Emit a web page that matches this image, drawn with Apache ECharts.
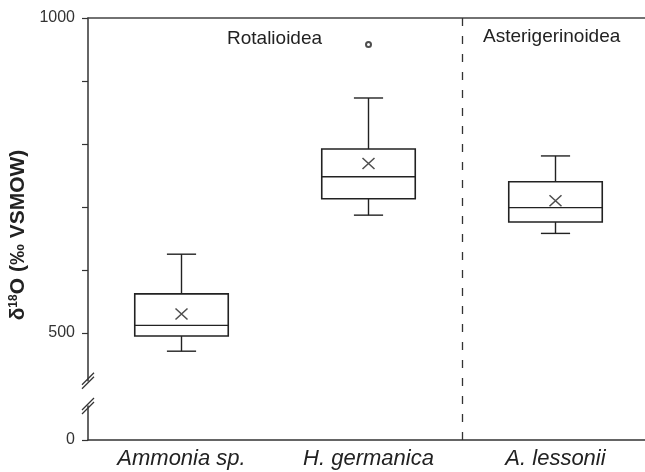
<!DOCTYPE html>
<html>
<head>
<meta charset="utf-8">
<script src="https://cdn.jsdelivr.net/npm/echarts@6/dist/echarts.min.js"></script>
<style>
html, body { margin: 0; padding: 0; background: #fff; }
#main { width: 645px; height: 472px; }
</style>
</head>
<body>
<div id="main"></div>
<script>
// 物种
const species = ['Ammonia sp.', 'H. germanica', 'A. lessonii'];
// 箱线统计 [最小, Q1, 中位数, Q3, 最大]
const boxMin = [471, 687, 658];
const boxQ1 = [495, 713, 676];
const boxMedian = [512, 748, 699];
const boxQ3 = [562, 792, 740];
const boxMax = [625, 873, 781];
// 平均值 (×)
const means = [530, 769, 710];
// 离群点
const outliers = [['H. germanica', 958]];
// 分组名称
const groupNames = ['Rotalioidea', 'Asterigerinoidea'];
// 刻度
const yTicks = [0, 500, 600, 700, 800, 900, 1000];
const yLabels = [0, 500, 1000];
// 轴断开
const yBreak = { start: 54, end: 424, gap: 40 };

const INK = '#222';
const FONT = 'Liberation Sans, Arial, sans-serif';

const chart = echarts.init(document.getElementById('main'));

const boxData = species.map((s, i) => [i, boxMin[i], boxQ1[i], boxMedian[i], boxQ3[i], boxMax[i]]);

// 自定义箱线图（须线端短）
function renderBox(params, api) {
    const x = api.value(0);
    const pMin = api.coord([x, api.value(1)]);
    const pQ1 = api.coord([x, api.value(2)]);
    const pMed = api.coord([x, api.value(3)]);
    const pQ3 = api.coord([x, api.value(4)]);
    const pMax = api.coord([x, api.value(5)]);
    const band = api.size([1, 0])[0];
    const half = band * 0.25;
    const cap = band * 0.078;
    const cx = pMed[0];
    const style = { stroke: INK, lineWidth: 1.4, fill: null };
    return {
        type: 'group',
        children: [
            { type: 'line', shape: { x1: cx, y1: pMax[1], x2: cx, y2: pQ3[1] }, style },
            { type: 'line', shape: { x1: cx, y1: pQ1[1], x2: cx, y2: pMin[1] }, style },
            { type: 'line', shape: { x1: cx - cap, y1: pMax[1], x2: cx + cap, y2: pMax[1] }, style },
            { type: 'line', shape: { x1: cx - cap, y1: pMin[1], x2: cx + cap, y2: pMin[1] }, style },
            { type: 'rect', shape: { x: cx - half, y: pQ3[1], width: half * 2, height: pQ1[1] - pQ3[1] }, style: { stroke: INK, lineWidth: 1.6, fill: '#fff' } },
            { type: 'line', shape: { x1: cx - half, y1: pMed[1], x2: cx + half, y2: pMed[1] }, style }
        ]
    };
}

const option = {
    backgroundColor: '#fff',
    animation: false,
    grid: { left: 88, right: -4, top: 18, bottom: 32, containLabel: false, outerBoundsMode: 'none' },
    xAxis: [
        {
            type: 'category',
            data: species,
            axisLine: { lineStyle: { color: '#333', width: 1.5 } },
            axisTick: { show: false },
            axisLabel: {
                color: INK,
                fontSize: 22,
                fontStyle: 'italic',
                fontFamily: FONT,
                margin: 8
            }
        },
        {
            type: 'category',
            position: 'top',
            data: species,
            axisLine: { lineStyle: { color: '#444', width: 1.5 } },
            axisTick: { show: false },
            axisLabel: { show: false }
        }
    ],
    yAxis: {
        type: 'value',
        min: 0,
        max: 1000,
        interval: 100,
        breaks: [yBreak],
        breakArea: { show: false },
        splitLine: { show: false },
        axisLine: { show: true, lineStyle: { color: '#333', width: 1.5 } },
        axisTick: {
            show: true,
            length: 6,
            customValues: yTicks,
            lineStyle: { color: '#333', width: 1.2 }
        },
        axisLabel: {
            customValues: yLabels,
            formatter: v => String(v),
            color: '#333',
            fontSize: 16,
            fontFamily: FONT,
            margin: 13
        },
        name: 'δ{s|18}O (‰ VSMOW)',
        nameLocation: 'middle',
        nameGap: 58,
        nameTextStyle: {
            color: INK,
            fontSize: 21,
            fontWeight: 'bold',
            fontFamily: FONT,
            padding: [0, 12, 0, 0],
            rich: {
                s: {
                    fontSize: 12,
                    fontWeight: 'bold',
                    verticalAlign: 'top',
                    color: INK,
                    fontFamily: FONT
                }
            }
        }
    },
    series: [
        {
            type: 'custom',
            renderItem: renderBox,
            encode: { x: 0, y: [1, 2, 3, 4, 5] },
            data: boxData,
            z: 3
        },
        {
            type: 'scatter',
            data: species.map((s, i) => [s, means[i]]),
            symbol: 'path://M0,0L10,10M10,0L0,10',
            symbolSize: [12, 11],
            itemStyle: { color: 'none', borderColor: INK, borderWidth: 1.4 },
            z: 5
        },
        {
            type: 'scatter',
            data: outliers,
            symbol: 'emptyCircle',
            symbolSize: 5,
            itemStyle: { color: INK, borderColor: INK, borderWidth: 1 },
            z: 5
        }
    ]
};

chart.setOption(option);

// 分隔线、分组标签与断轴符号
function drawExtras() {
    const c0 = chart.convertToPixel({ xAxisIndex: 0 }, species[0]);
    const c1 = chart.convertToPixel({ xAxisIndex: 0 }, species[1]);
    const c2 = chart.convertToPixel({ xAxisIndex: 0 }, species[2]);
    const sepX = Math.round((c1 + c2) / 2) + 0.5;
    const axisX = Math.round(c0 - (c1 - c0) / 2);
    const yTop = chart.convertToPixel({ yAxisIndex: 0 }, 1000);
    const yBottom = chart.convertToPixel({ yAxisIndex: 0 }, 0);
    const yHi = chart.convertToPixel({ yAxisIndex: 0 }, yBreak.end);
    const yLo = chart.convertToPixel({ yAxisIndex: 0 }, yBreak.start);

    const slash = (yc) => [-2, 2].map(d => ({
        type: 'line',
        shape: { x1: axisX - 6, y1: yc + 6 + d, x2: axisX + 6, y2: yc - 6 + d },
        style: { stroke: '#333', lineWidth: 1.2 },
        z: 20
    }));

    chart.setOption({
        graphic: [
            {
                type: 'line',
                shape: { x1: sepX, y1: yTop, x2: sepX, y2: yBottom },
                style: { stroke: '#333', lineWidth: 1.3, lineDash: [8, 10] },
                z: 1
            },
            {
                type: 'rect',
                shape: { x: axisX - 3, y: yHi + 1, width: 6, height: yLo - yHi - 2 },
                style: { fill: '#fff' },
                z: 15
            },
            ...slash(yHi),
            ...slash(yLo),
            {
                type: 'text',
                left: 227,
                top: 29,
                style: { text: groupNames[0], fill: INK, fontSize: 19, fontFamily: FONT }
            },
            {
                type: 'text',
                left: 483,
                top: 27,
                style: { text: groupNames[1], fill: INK, fontSize: 19, fontFamily: FONT }
            }
        ]
    });
}

drawExtras();
</script>
</body>
</html>
